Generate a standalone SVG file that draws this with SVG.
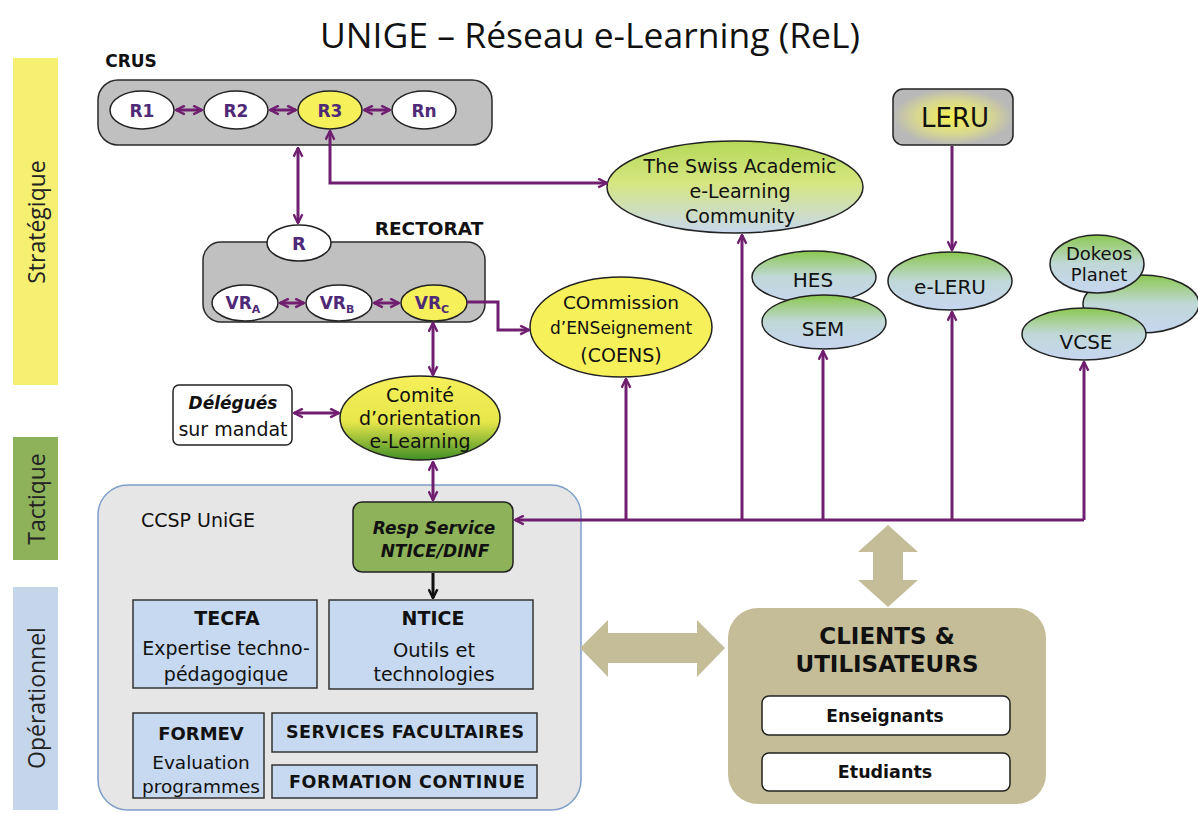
<svg xmlns="http://www.w3.org/2000/svg" width="1198" height="814" viewBox="0 0 1198 814">
<defs>
<style>
.t{font-family:"DejaVu Sans","Liberation Sans",sans-serif;fill:#111;text-anchor:middle;dominant-baseline:central}
.b{font-weight:bold}
.p{fill:#4f2a78;font-weight:bold}
.band{font-family:"Open Sans","Liberation Sans",sans-serif;font-size:23px;fill:#222;text-anchor:middle;dominant-baseline:central}
.gray{fill:#c0c0c0;stroke:#2a2a2a;stroke-width:1.5}
.wel{fill:#fff;stroke:#222;stroke-width:1.5}
.yel{fill:#f6f05a;stroke:#222;stroke-width:1.5}
.gb{fill:url(#gGB);stroke:#222;stroke-width:1.5}
.box{fill:#c6d9f0;stroke:#333;stroke-width:1.5}
.con{fill:none;stroke:#701f70;stroke-width:3}
.tan{fill:#c4bd97}
</style>
<linearGradient id="gGB" x1="0" y1="0" x2="0" y2="1">
<stop offset="0" stop-color="#8cc850"/><stop offset="0.5" stop-color="#c0d8d8"/><stop offset="1" stop-color="#c6d6f0"/>
</linearGradient>
<linearGradient id="gSwiss" x1="0" y1="0" x2="0" y2="1">
<stop offset="0" stop-color="#b4d858"/><stop offset="0.45" stop-color="#d6e680"/><stop offset="1" stop-color="#c8d8ee"/>
</linearGradient>
<linearGradient id="gCom" x1="0" y1="0" x2="0" y2="1">
<stop offset="0" stop-color="#f6f05a"/><stop offset="0.55" stop-color="#e6e64a"/><stop offset="1" stop-color="#3f8f25"/>
</linearGradient>
<radialGradient id="gLeru" cx="0.5" cy="0.5" r="0.5">
<stop offset="0" stop-color="#f4f050"/><stop offset="0.6" stop-color="#d8d890"/><stop offset="1" stop-color="#b8b8b8"/>
</radialGradient>
<marker id="ap" viewBox="0 0 10 10" refX="9" refY="5" markerWidth="11" markerHeight="11" markerUnits="userSpaceOnUse" orient="auto-start-reverse">
<path d="M1,1 L9,5 L1,9" fill="none" stroke="#701f70" stroke-width="2.2"/>
</marker>
<marker id="ak" viewBox="0 0 10 10" refX="9" refY="5" markerWidth="11" markerHeight="11" markerUnits="userSpaceOnUse" orient="auto">
<path d="M1,1 L9,5 L1,9" fill="none" stroke="#111" stroke-width="2.2"/>
</marker>
</defs>
<rect width="1198" height="814" fill="#fff"/>

<text x="590" y="34" font-family="'Open Sans','Liberation Sans',sans-serif" font-size="35.5" fill="#111" text-anchor="middle" dominant-baseline="central">UNIGE – Réseau e-Learning (ReL)</text>

<g id="bands">
<rect x="13" y="58" width="45" height="327" fill="#f5f072"/>
<text class="band" transform="translate(36,222) rotate(-90)">Stratégique</text>
<rect x="13" y="437" width="45" height="123" fill="#8db25a"/>
<text class="band" transform="translate(36,499) rotate(-90)">Tactique</text>
<rect x="13" y="587" width="45" height="223" fill="#c5d5ea"/>
<text class="band" transform="translate(36,698) rotate(-90)">Opérationnel</text>
</g>

<g id="crus">
<rect class="gray" x="98" y="80" width="394" height="65" rx="20"/>
<text class="t b" x="131" y="61" font-size="17">CRUS</text>
</g>
<g id="r1"><ellipse class="wel" cx="142" cy="110" rx="32" ry="19"/><text class="t p" x="142" y="111" font-size="17">R1</text></g>
<g id="r2"><ellipse class="wel" cx="236" cy="110" rx="32" ry="19"/><text class="t p" x="236" y="111" font-size="17">R2</text></g>
<g id="r3"><ellipse class="yel" cx="330" cy="110" rx="32" ry="19"/><text class="t p" x="330" y="111" font-size="17">R3</text></g>
<g id="rn"><ellipse class="wel" cx="424" cy="110" rx="32" ry="19"/><text class="t p" x="424" y="111" font-size="17">Rn</text></g>

<g id="rectorat">
<rect class="gray" x="203" y="242" width="282" height="80" rx="18"/>
<text class="t b" x="429" y="228" font-size="18.5">RECTORAT</text>
</g>
<g id="r"><ellipse class="wel" cx="299" cy="243" rx="32" ry="18"/><text class="t p" x="299" y="243" font-size="18">R</text></g>
<g id="vra"><ellipse class="wel" cx="245" cy="303" rx="33" ry="18"/><text class="t p" x="243" y="303" font-size="17">VR<tspan font-size="11" dy="6">A</tspan></text></g>
<g id="vrb"><ellipse class="wel" cx="339" cy="303" rx="33" ry="18"/><text class="t p" x="337" y="303" font-size="17">VR<tspan font-size="11" dy="6">B</tspan></text></g>
<g id="vrc"><ellipse class="yel" cx="434" cy="303" rx="33" ry="18"/><text class="t p" x="432" y="303" font-size="17">VR<tspan font-size="11" dy="6">C</tspan></text></g>

<g id="delegues">
<rect x="173" y="385" width="119" height="60" rx="6" fill="#fff" stroke="#222" stroke-width="1.5"/>
<text class="t b" x="233" y="403" font-size="17" font-style="italic">Délégués</text>
<text class="t" x="233" y="429" font-size="19">sur mandat</text>
</g>
<g id="comite">
<ellipse cx="420" cy="418" rx="80" ry="42" fill="url(#gCom)" stroke="#222" stroke-width="1.5"/>
<text class="t" x="420" y="395" font-size="19">Comité</text>
<text class="t" x="420" y="418" font-size="19">d’orientation</text>
<text class="t" x="420" y="441" font-size="19">e-Learning</text>
</g>

<g id="swiss">
<ellipse cx="735" cy="187" rx="128" ry="46" fill="url(#gSwiss)" stroke="#222" stroke-width="1.5"/>
<text class="t" x="740" y="166" font-size="19">The Swiss Academic</text>
<text class="t" x="740" y="191" font-size="19">e-Learning</text>
<text class="t" x="740" y="216" font-size="19">Community</text>
</g>
<g id="coens">
<ellipse class="yel" cx="621" cy="327" rx="91" ry="50"/>
<text class="t" x="621" y="302" font-size="18.5">COmmission</text>
<text class="t" x="621" y="328" font-size="17">d’ENSeignement</text>
<text class="t" x="621" y="355" font-size="19">(COENS)</text>
</g>
<g id="hes"><ellipse class="gb" cx="814" cy="277" rx="62" ry="26"/><text class="t" x="813" y="280" font-size="20">HES</text></g>
<g id="sem"><ellipse class="gb" cx="824" cy="322" rx="62" ry="27"/><text class="t" x="823" y="329" font-size="20">SEM</text></g>
<g id="leru">
<rect x="893" y="89" width="120" height="56" rx="10" fill="url(#gLeru)" stroke="#222" stroke-width="1.5"/>
<text class="t" x="955" y="118" font-size="26">LERU</text>
</g>
<g id="eleru"><ellipse class="gb" cx="950" cy="281" rx="62" ry="29"/><text class="t" x="950" y="287" font-size="20">e-LERU</text></g>
<g id="other"><ellipse class="gb" cx="1141" cy="304" rx="58" ry="29"/></g>
<g id="dokeos"><ellipse class="gb" cx="1097" cy="264" rx="47" ry="29"/><text class="t" x="1099" y="253" font-size="18">Dokeos</text><text class="t" x="1099" y="274" font-size="18">Planet</text></g>
<g id="vcse"><ellipse class="gb" cx="1084" cy="334" rx="62" ry="26"/><text class="t" x="1086" y="342" font-size="20">VCSE</text></g>

<g id="ccsp">
<rect x="98" y="485" width="483" height="325" rx="30" fill="#e6e6e6" stroke="#7f9fc8" stroke-width="1.5"/>
<text class="t" x="198" y="520" font-size="19">CCSP UniGE</text>
</g>
<g id="resp">
<rect x="353" y="502" width="160" height="70" rx="9" fill="#8db25a" stroke="#222" stroke-width="1.5"/>
<text class="t b" x="434" y="528" font-size="17" font-style="italic">Resp Service</text>
<text class="t b" x="435" y="551" font-size="17" font-style="italic">NTICE/DINF</text>
</g>
<g id="tecfa">
<rect class="box" x="133" y="600" width="184" height="88"/>
<text class="t b" x="227" y="618" font-size="19">TECFA</text>
<text class="t" x="226" y="648" font-size="19">Expertise techno-</text>
<text class="t" x="226" y="674" font-size="19">pédagogique</text>
</g>
<g id="ntice">
<rect class="box" x="329" y="600" width="204" height="89"/>
<text class="t b" x="433" y="618" font-size="19">NTICE</text>
<text class="t" x="434" y="650" font-size="19.5">Outils et</text>
<text class="t" x="434" y="674" font-size="19">technologies</text>
</g>
<g id="formev">
<rect class="box" x="133" y="713" width="131" height="85"/>
<text class="t b" x="201" y="733" font-size="18">FORMEV</text>
<text class="t" x="201" y="762" font-size="18.5">Evaluation</text>
<text class="t" x="201" y="786" font-size="18.5">programmes</text>
</g>
<g id="services">
<rect class="box" x="272" y="713" width="265" height="39"/>
<text class="t b" x="405" y="732" font-size="17.5" textLength="238">SERVICES FACULTAIRES</text>
</g>
<g id="formation">
<rect class="box" x="272" y="765" width="265" height="33"/>
<text class="t b" x="407" y="782" font-size="17.5" textLength="236">FORMATION CONTINUE</text>
</g>

<g id="clients">
<rect class="tan" x="728" y="608" width="318" height="196" rx="30"/>
<text class="t b" x="887" y="636" font-size="23">CLIENTS &amp;</text>
<text class="t b" x="887" y="664" font-size="23">UTILISATEURS</text>
</g>
<g id="enseignants">
<rect x="762" y="696" width="248" height="39" rx="7" fill="#fff" stroke="#222" stroke-width="1.5"/>
<text class="t b" x="885" y="716" font-size="17">Enseignants</text>
</g>
<g id="etudiants">
<rect x="762" y="753" width="248" height="38" rx="7" fill="#fff" stroke="#222" stroke-width="1.5"/>
<text class="t b" x="885" y="772" font-size="17.5">Etudiants</text>
</g>

<g id="connectors">
<line class="con" x1="176" y1="110" x2="202" y2="110" marker-start="url(#ap)" marker-end="url(#ap)"/>
<line class="con" x1="270" y1="110" x2="296" y2="110" marker-start="url(#ap)" marker-end="url(#ap)"/>
<line class="con" x1="364" y1="110" x2="390" y2="110" marker-start="url(#ap)" marker-end="url(#ap)"/>
<line class="con" x1="298" y1="148" x2="298" y2="223" marker-start="url(#ap)" marker-end="url(#ap)"/>
<path class="con" d="M330,131 L330,183 L607,183" marker-start="url(#ap)" marker-end="url(#ap)"/>
<line class="con" x1="280" y1="303" x2="304" y2="303" marker-start="url(#ap)" marker-end="url(#ap)"/>
<line class="con" x1="374" y1="303" x2="399" y2="303" marker-start="url(#ap)" marker-end="url(#ap)"/>
<path class="con" d="M467,302 L498,302 L498,330 L529,330" marker-end="url(#ap)"/>
<line class="con" x1="433" y1="323" x2="433" y2="375" marker-start="url(#ap)" marker-end="url(#ap)"/>
<line class="con" x1="294" y1="413" x2="339" y2="413" marker-start="url(#ap)" marker-end="url(#ap)"/>
<line class="con" x1="433" y1="462" x2="433" y2="500" marker-start="url(#ap)" marker-end="url(#ap)"/>
<line class="con" x1="952" y1="146" x2="952" y2="250" marker-end="url(#ap)"/>
<path class="con" d="M1084,520 L515,520" marker-end="url(#ap)"/>
<line class="con" x1="1084" y1="520" x2="1084" y2="362" marker-end="url(#ap)"/>
<line class="con" x1="626" y1="520" x2="626" y2="379" marker-end="url(#ap)"/>
<line class="con" x1="742" y1="520" x2="742" y2="235" marker-end="url(#ap)"/>
<line class="con" x1="823" y1="520" x2="823" y2="351" marker-end="url(#ap)"/>
<line class="con" x1="952" y1="520" x2="952" y2="312" marker-end="url(#ap)"/>
<line x1="433" y1="573" x2="433" y2="598" stroke="#111" stroke-width="3" marker-end="url(#ak)"/>
<polygon class="tan" points="580,648 608,620 608,633 697,633 697,620 725,648 697,677 697,663 608,663 608,677"/>
<polygon class="tan" points="888,525 918,552 903,552 903,580 918,580 888,607 858,580 873,580 873,552 858,552"/>
</g>
</svg>
